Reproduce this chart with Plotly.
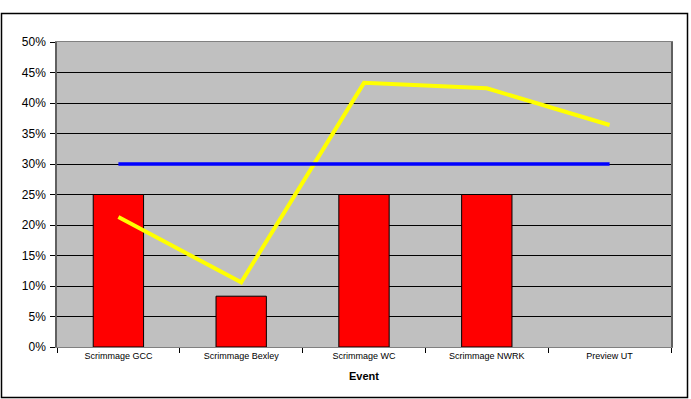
import plotly.graph_objects as go

events = ["Scrimmage GCC", "Scrimmage Bexley", "Scrimmage WC", "Scrimmage NWRK", "Preview UT"]
bar_values = [0.25, 0.0833, 0.25, 0.25, None]
line_values = [0.213, 0.106, 0.433, 0.424, 0.364]
target_values = [0.30, 0.30, 0.30, 0.30, 0.30]
y_ticks = [0, 0.05, 0.10, 0.15, 0.20, 0.25, 0.30, 0.35, 0.40, 0.45, 0.50]

fig = go.Figure()
fig.add_trace(go.Bar(
    x=events, y=bar_values,
    marker=dict(color="#FF0000", line=dict(color="black", width=1)),
    width=0.41,
))
fig.add_trace(go.Scatter(
    x=events, y=line_values, mode="lines",
    line=dict(color="#FFFF00", width=4),
))
fig.add_trace(go.Scatter(
    x=events, y=target_values, mode="lines",
    line=dict(color="#0000FF", width=3.5),
))

# outer chart border
h = 305
w = 614
fig.add_shape(
    type="rect", xref="paper", yref="paper",
    x0=(1.5 - 57) / w, x1=(687.5 - 57) / w,
    y0=(347 - 397.5) / h, y1=(347 - 13.5) / h,
    line=dict(color="black", width=1.5), layer="below",
)

fig.update_layout(
    width=691, height=399,
    margin=dict(l=57, r=20, t=42, b=52),
    paper_bgcolor="white",
    plot_bgcolor="#C0C0C0",
    showlegend=False,
    bargap=0.59,
    font=dict(family="Liberation Sans, Arial", color="black"),
    xaxis=dict(
        title=dict(text="<b>Event</b>", font=dict(size=11), standoff=12),
        tickfont=dict(size=9),
        ticks="outside", tickson="boundaries", ticklen=5, tickcolor="black",
        showline=True, linecolor="#808080", linewidth=1, mirror=True,
        showgrid=False,
    ),
    yaxis=dict(
        range=[0, 0.5],
        tickvals=y_ticks,
        tickformat=".0%",
        tickfont=dict(size=12),
        ticks="outside", ticklen=5, tickcolor="black",
        ticklabelstandoff=2,
        showline=True, linecolor="#606060", linewidth=1.5, mirror=True,
        showgrid=True, gridcolor="black", gridwidth=1,
        zeroline=False,
    ),
)

fig.write_html("out.html", config={"displayModeBar": False},
               post_script="document.body.style.margin='0';")
